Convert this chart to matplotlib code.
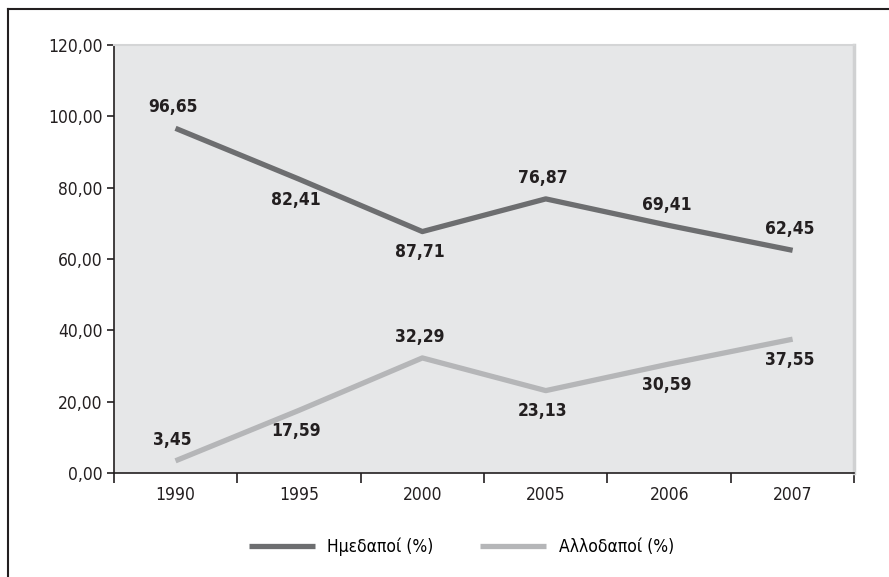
import matplotlib.pyplot as plt
from matplotlib.lines import Line2D

plt.rcParams['font.family'] = ['DejaVu Sans']
plt.rcParams['font.stretch'] = 'condensed'

years = ['1990', '1995', '2000', '2005', '2006', '2007']
imedapoi = [96.65, 82.41, 67.71, 76.87, 69.41, 62.45]
allodapoi = [3.45, 17.59, 32.29, 23.13, 30.59, 37.55]
# labels as printed in the original (2000 reads "87,71")
imedapoi_labels = ['96,65', '82,41', '87,71', '76,87', '69,41', '62,45']
allodapoi_labels = ['3,45', '17,59', '32,29', '23,13', '30,59', '37,55']
yticks = [0, 20, 40, 60, 80, 100, 120]

DARK = '#6d6e70'
LIGHT = '#b5b6b8'
BG = '#e6e7e8'
TXT = '#231f20'

fig = plt.figure(figsize=(8.89, 5.77), dpi=100)
ax = fig.add_axes([0.128, 0.180, 0.833, 0.742])
ax.set_facecolor(BG)

x = list(range(len(years)))
ax.plot(x, imedapoi, color=DARK, lw=3.8, solid_capstyle='butt', label='Ημεδαποί (%)')
ax.plot(x, allodapoi, color=LIGHT, lw=3.8, solid_capstyle='butt', label='Αλλοδαποί (%)')

# label placement: +1 above the point, -1 below
imed_pos = [1, -1, -1, 1, 1, 1]
allo_pos = [1, -1, 1, -1, -1, -1]
for xi, v, t, p in zip(x, imedapoi, imedapoi_labels, imed_pos):
    ax.annotate(t, (xi, v), xytext=(-2, 15 * p), textcoords='offset points',
                ha='center', va='center', fontsize=12.5, fontweight='bold', color=TXT)
for xi, v, t, p in zip(x, allodapoi, allodapoi_labels, allo_pos):
    ax.annotate(t, (xi, v), xytext=(-2, 15 * p), textcoords='offset points',
                ha='center', va='center', fontsize=12.5, fontweight='bold', color=TXT)

ax.set_xlim(-0.5, len(years) - 0.5)
ax.set_ylim(0, 120)
ax.set_yticks(yticks)
ax.set_yticklabels([f'{v},00' for v in yticks], fontsize=12.5, color=TXT)
ax.tick_params(axis='y', direction='out', length=5, width=1.2, color=TXT, pad=3)

# category boundaries get the tick marks, labels sit in the middle
ax.set_xticks([i - 0.5 for i in range(len(years) + 1)])
ax.set_xticklabels([])
ax.tick_params(axis='x', which='major', direction='out', length=7, width=1.2, color=TXT)
ax.set_xticks(x, minor=True)
ax.set_xticklabels(years, minor=True, fontsize=12.5, color=TXT)
ax.tick_params(axis='x', which='minor', length=0, pad=9)

ax.spines['left'].set_color(TXT)
ax.spines['left'].set_linewidth(1.2)
ax.spines['bottom'].set_color(TXT)
ax.spines['bottom'].set_linewidth(1.2)
ax.spines['top'].set_color('#d4d5d6')
ax.spines['top'].set_linewidth(1.5)
ax.spines['right'].set_color('#d0d1d2')
ax.spines['right'].set_linewidth(2.5)

fig.legend(loc='lower center', bbox_to_anchor=(0.519, 0.01), ncol=2, frameon=False,
           fontsize=12.5, handlelength=3.8, handletextpad=0.7, columnspacing=2.7)

# outer frame (only top and left edges show)
fig.add_artist(Line2D([8 / 889, 1], [1 - 9 / 577, 1 - 9 / 577], color=TXT, lw=1.5))
fig.add_artist(Line2D([8 / 889, 8 / 889], [0, 1 - 9 / 577], color=TXT, lw=1.5))

fig.savefig('out.png', dpi=100)
